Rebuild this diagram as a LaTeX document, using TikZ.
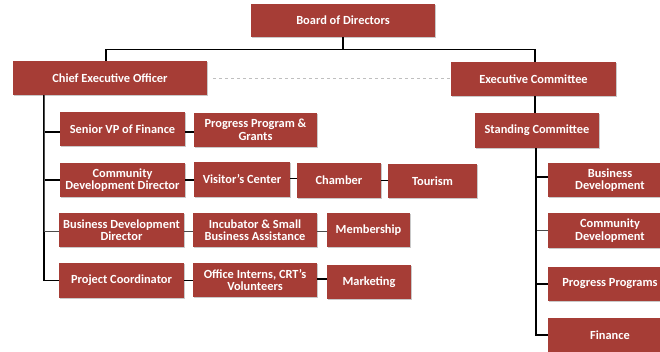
\documentclass[tikz,border=0pt]{standalone}
\usepackage{fontspec}
\setmainfont{Carlito}
\usetikzlibrary{shadows}
\definecolor{boxred}{HTML}{A63D36}
\tikzset{
  bx/.style={draw=none, fill=boxred, text=white, font=\bfseries\fontsize{12.4}{12.6}\selectfont,
    align=center, inner sep=0pt, minimum width=#1,
    drop shadow={shadow xshift=1.2pt, shadow yshift=-1.2pt, fill=black!35, opacity=0.6}},
  bx/.default=124pt,
  conn/.style={draw=black, line width=1.3pt},
  dash line/.style={draw=black!25, dashed, line width=0.8pt}
}
\begin{document}
\begin{tikzpicture}[x=1pt,y=-1pt]
\clip (0,0) rectangle (660,351);
\fill[white] (0,0) rectangle (660,351);
% nodes
\node[bx=184pt, minimum height=33pt] (board) at (343,20.5) {Board of Directors};
\node[bx=194pt, minimum height=34pt] (ceo) at (110,78) {Chief Executive Officer};
\node[bx=165pt, minimum height=34pt] (exec) at (533.5,79) {Executive Committee};
\node[bx=125pt, minimum height=34pt] (svp) at (122.5,129) {Senior VP of Finance};
\node[bx=123pt, minimum height=34pt] (ppg) at (255.5,130) {Progress Program \&\\Grants};
\node[bx=125pt, minimum height=34pt] (cdd) at (122.5,180) {Community\\Development Director};
\node[bx=96pt, minimum height=35pt] (vc) at (242,179.5) {Visitor’s Center};
\node[bx=84pt, minimum height=35pt] (chamber) at (339,180.5) {Chamber};
\node[bx=89pt, minimum height=34pt] (tourism) at (432.5,181) {Tourism};
\node[bx=125pt, minimum height=34pt] (bdd) at (121.5,230) {Business Development\\Director};
\node[bx=124pt, minimum height=34pt] (inc) at (255,230) {Incubator \& Small\\Business Assistance};
\node[bx=83pt, minimum height=34pt] (memb) at (368.5,230) {Membership};
\node[bx=125pt, minimum height=35pt] (pc) at (121.5,280.5) {Project Coordinator};
\node[bx=124pt, minimum height=34pt] (oi) at (255,280) {Office Interns, CRT’s\\Volunteers};
\node[bx=84pt, minimum height=34pt] (mkt) at (369,282) {Marketing};
\node[bx=124pt, minimum height=35pt] (sc) at (537,130.5) {Standing Committee};
\node[bx=124pt, minimum height=34pt] (bd) at (610,180) {Business\\Development};
\node[bx=124pt, minimum height=35pt] (cd) at (610,230.5) {Community\\Development};
\node[bx=124pt, minimum height=34pt] (pp) at (610,284) {Progress Programs};
\node[bx=124pt, minimum height=34pt] (fin) at (610,335) {Finance};
% top connectors
\draw[conn] (board.south) -- ++(0,13);
\draw[conn] ([xshift=-4pt]ceo.north) -- ++(0,-11) -| ([xshift=1.5pt]exec.north);
\draw[dash line] ([xshift=6pt]ceo.east) -- (exec.west |- ceo.east);
% CEO branch
\draw[conn] ([xshift=-66pt]ceo.south) |- (pc.west);
\draw[conn] ([xshift=-66pt]ceo.south) |- ([yshift=-3pt]svp.west);
\draw[conn] ([xshift=-66pt]ceo.south) |- (cdd.west);
\draw[conn, line width=0.9pt, draw=black!70] ([xshift=-66pt]ceo.south) |- ([yshift=-1pt]bdd.west);
% row connectors
\draw[conn] ([yshift=-3pt]svp.east) -- ([yshift=-3pt]svp.east -| ppg.west);
\draw[conn] (cdd.east) -- (cdd.east -| vc.west);
\draw[conn] ([yshift=1pt]vc.east) -- ([yshift=1pt]vc.east -| chamber.west);
\draw[conn] (chamber.east) -- (chamber.east -| tourism.west);
\draw[conn, line width=0.9pt, draw=black!70] ([yshift=-1pt]bdd.east) -- ([yshift=-1pt]bdd.east -| inc.west);
\draw[conn, line width=0.9pt, draw=black!70] ([yshift=-1pt]inc.east) -- ([yshift=-1pt]inc.east -| memb.west);
\draw[conn] (pc.east) -- (pc.east -| oi.west);
\draw[conn] ([yshift=1pt]oi.east) -- ([yshift=1pt]oi.east -| mkt.west);
% Executive branch
\coordinate (exs) at ([xshift=1.5pt]exec.south);
\draw[conn] (exs) -- (exs |- sc.north);
\draw[conn] ([xshift=-1pt]sc.south) |- (fin.west);
\draw[conn] ([xshift=-1pt]sc.south) |- ([yshift=3pt]bd.west);
\draw[conn, line width=0.9pt, draw=black!70] ([xshift=-1pt]sc.south) |- (cd.west);
\draw[conn] ([xshift=-1pt]sc.south) |- (pp.west);
\end{tikzpicture}
\end{document}
